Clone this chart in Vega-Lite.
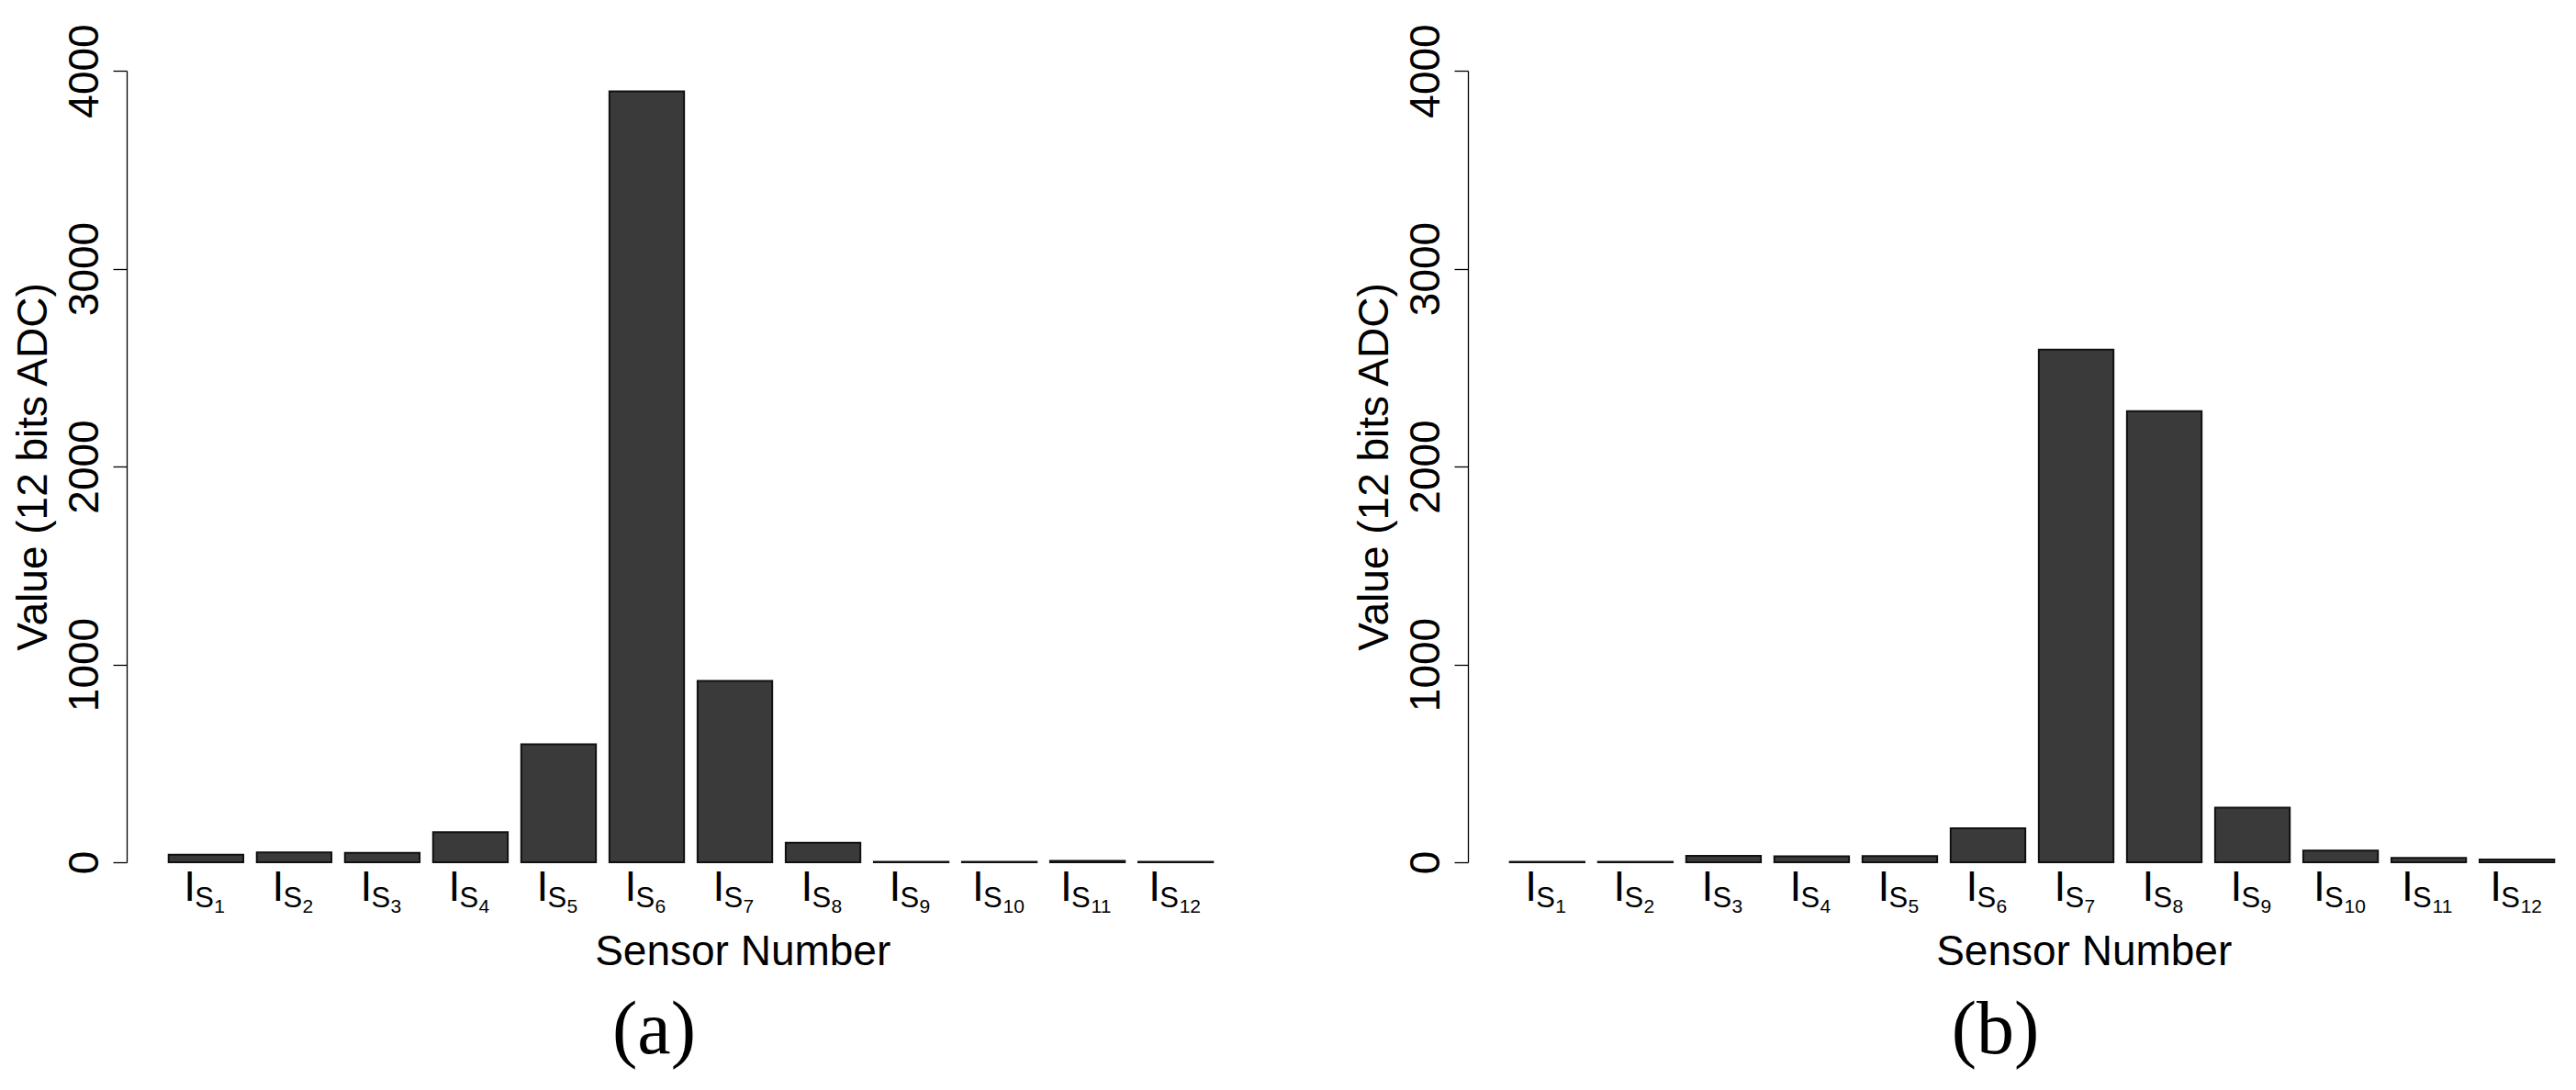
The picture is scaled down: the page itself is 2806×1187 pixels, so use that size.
{
  "$schema": "https://vega.github.io/schema/vega-lite/v6.json",
  "background": "white",
  "padding": {"left": 13, "top": 25, "right": 0, "bottom": 40},
  "spacing": 107,
  "datasets": {
    "sensors": [
      {"panel": "a", "sensor": 1, "value": 38},
      {"panel": "a", "sensor": 2, "value": 50},
      {"panel": "a", "sensor": 3, "value": 48},
      {"panel": "a", "sensor": 4, "value": 152},
      {"panel": "a", "sensor": 5, "value": 596},
      {"panel": "a", "sensor": 6, "value": 3896},
      {"panel": "a", "sensor": 7, "value": 916},
      {"panel": "a", "sensor": 8, "value": 99},
      {"panel": "a", "sensor": 9, "value": 2},
      {"panel": "a", "sensor": 10, "value": 2},
      {"panel": "a", "sensor": 11, "value": 7},
      {"panel": "a", "sensor": 12, "value": 2},
      {"panel": "b", "sensor": 1, "value": 2},
      {"panel": "b", "sensor": 2, "value": 2},
      {"panel": "b", "sensor": 3, "value": 32},
      {"panel": "b", "sensor": 4, "value": 30},
      {"panel": "b", "sensor": 5, "value": 31},
      {"panel": "b", "sensor": 6, "value": 172},
      {"panel": "b", "sensor": 7, "value": 2590},
      {"panel": "b", "sensor": 8, "value": 2280},
      {"panel": "b", "sensor": 9, "value": 276},
      {"panel": "b", "sensor": 10, "value": 59},
      {"panel": "b", "sensor": 11, "value": 22},
      {"panel": "b", "sensor": 12, "value": 14}
    ]
  },
  "hconcat": [
    {
      "width": 1229,
      "height": 862,
      "data": {"name": "sensors"},
      "transform": [{"filter": "datum.panel === 'a'"}],
      "title": {"text": "(a)", "orient": "bottom", "frame": "group", "anchor": "middle", "dx": -40, "offset": 88, "baseline": "alphabetic"},
      "encoding": {
        "x": {
          "field": "sensor", "type": "ordinal",
          "scale": {"paddingInner": 0.153, "paddingOuter": 0.476},
          "axis": {"title": "Sensor Number", "labels": false, "ticks": false, "domain": false, "titleX": 670.7, "titlePadding": 111, "titleBaseline": "alphabetic", "titleAlign": "center"}
        }
      },
      "layer": [
        {
          "mark": {"type": "bar", "fill": "#3a3a3a", "stroke": "#111111", "strokeWidth": 2},
          "encoding": {
            "y": {"field": "value", "type": "quantitative", "title": "Value (12 bits ADC)", "scale": {"domain": [0, 4000], "nice": false}, "axis": {"values": [0, 1000, 2000, 3000, 4000], "format": "d"}}
          }
        },
        {"transform": [{"filter": "datum.sensor < 10"}], "mark": {"type": "text", "text": "I", "align": "left", "baseline": "alphabetic", "dx": -24, "dy": 42, "font": "Liberation Sans", "fontSize": 46, "color": "black"}, "encoding": {"y": {"datum": 0, "title": "Value (12 bits ADC)"}}},
        {"transform": [{"filter": "datum.sensor < 10"}], "mark": {"type": "text", "text": "S", "align": "left", "baseline": "alphabetic", "dx": -12, "dy": 49, "font": "Liberation Sans", "fontSize": 31, "color": "black"}, "encoding": {"y": {"datum": 0, "title": "Value (12 bits ADC)"}}},
        {"transform": [{"filter": "datum.sensor < 10"}], "mark": {"type": "text", "align": "left", "baseline": "alphabetic", "dx": 9, "dy": 55, "font": "Liberation Sans", "fontSize": 21, "color": "black"}, "encoding": {"y": {"datum": 0, "title": "Value (12 bits ADC)"}, "text": {"field": "sensor", "type": "nominal"}}},
        {"transform": [{"filter": "datum.sensor >= 10"}], "mark": {"type": "text", "text": "I", "align": "left", "baseline": "alphabetic", "dx": -29.5, "dy": 42, "font": "Liberation Sans", "fontSize": 46, "color": "black"}, "encoding": {"y": {"datum": 0, "title": "Value (12 bits ADC)"}}},
        {"transform": [{"filter": "datum.sensor >= 10"}], "mark": {"type": "text", "text": "S", "align": "left", "baseline": "alphabetic", "dx": -17.5, "dy": 49, "font": "Liberation Sans", "fontSize": 31, "color": "black"}, "encoding": {"y": {"datum": 0, "title": "Value (12 bits ADC)"}}},
        {"transform": [{"filter": "datum.sensor >= 10"}], "mark": {"type": "text", "align": "left", "baseline": "alphabetic", "dx": 4, "dy": 55, "font": "Liberation Sans", "fontSize": 21, "color": "black"}, "encoding": {"y": {"datum": 0, "title": "Value (12 bits ADC)"}, "text": {"field": "sensor", "type": "nominal"}}}
      ]
    },
    {
      "width": 1229,
      "height": 862,
      "data": {"name": "sensors"},
      "transform": [{"filter": "datum.panel === 'b'"}],
      "title": {"text": "(b)", "orient": "bottom", "frame": "group", "anchor": "middle", "dx": -40, "offset": 88, "baseline": "alphabetic"},
      "encoding": {
        "x": {
          "field": "sensor", "type": "ordinal",
          "scale": {"paddingInner": 0.153, "paddingOuter": 0.476},
          "axis": {"title": "Sensor Number", "labels": false, "ticks": false, "domain": false, "titleX": 670.7, "titlePadding": 111, "titleBaseline": "alphabetic", "titleAlign": "center"}
        }
      },
      "layer": [
        {
          "mark": {"type": "bar", "fill": "#3a3a3a", "stroke": "#111111", "strokeWidth": 2},
          "encoding": {
            "y": {"field": "value", "type": "quantitative", "title": "Value (12 bits ADC)", "scale": {"domain": [0, 4000], "nice": false}, "axis": {"values": [0, 1000, 2000, 3000, 4000], "format": "d"}}
          }
        },
        {"transform": [{"filter": "datum.sensor < 10"}], "mark": {"type": "text", "text": "I", "align": "left", "baseline": "alphabetic", "dx": -24, "dy": 42, "font": "Liberation Sans", "fontSize": 46, "color": "black"}, "encoding": {"y": {"datum": 0, "title": "Value (12 bits ADC)"}}},
        {"transform": [{"filter": "datum.sensor < 10"}], "mark": {"type": "text", "text": "S", "align": "left", "baseline": "alphabetic", "dx": -12, "dy": 49, "font": "Liberation Sans", "fontSize": 31, "color": "black"}, "encoding": {"y": {"datum": 0, "title": "Value (12 bits ADC)"}}},
        {"transform": [{"filter": "datum.sensor < 10"}], "mark": {"type": "text", "align": "left", "baseline": "alphabetic", "dx": 9, "dy": 55, "font": "Liberation Sans", "fontSize": 21, "color": "black"}, "encoding": {"y": {"datum": 0, "title": "Value (12 bits ADC)"}, "text": {"field": "sensor", "type": "nominal"}}},
        {"transform": [{"filter": "datum.sensor >= 10"}], "mark": {"type": "text", "text": "I", "align": "left", "baseline": "alphabetic", "dx": -29.5, "dy": 42, "font": "Liberation Sans", "fontSize": 46, "color": "black"}, "encoding": {"y": {"datum": 0, "title": "Value (12 bits ADC)"}}},
        {"transform": [{"filter": "datum.sensor >= 10"}], "mark": {"type": "text", "text": "S", "align": "left", "baseline": "alphabetic", "dx": -17.5, "dy": 49, "font": "Liberation Sans", "fontSize": 31, "color": "black"}, "encoding": {"y": {"datum": 0, "title": "Value (12 bits ADC)"}}},
        {"transform": [{"filter": "datum.sensor >= 10"}], "mark": {"type": "text", "align": "left", "baseline": "alphabetic", "dx": 4, "dy": 55, "font": "Liberation Sans", "fontSize": 21, "color": "black"}, "encoding": {"y": {"datum": 0, "title": "Value (12 bits ADC)"}, "text": {"field": "sensor", "type": "nominal"}}}
      ]
    }
  ],
  "config": {
    "view": {"stroke": null},
    "axis": {
      "labelFont": "Liberation Sans", "titleFont": "Liberation Sans",
      "labelFontSize": 46, "titleFontSize": 46, "titleFontWeight": "normal",
      "labelColor": "black", "titleColor": "black",
      "domainColor": "black", "tickColor": "black", "grid": false
    },
    "axisY": {
      "labelAngle": 270, "labelAlign": "center", "labelBaseline": "alphabetic",
      "labelPadding": 17, "tickSize": 15, "tickWidth": 1.3, "domainWidth": 1.3,
      "labelFlush": false, "labelOverlap": false,
      "titlePadding": 19, "titleBaseline": "alphabetic"
    },
    "title": {"font": "Liberation Serif", "fontSize": 82, "fontWeight": "normal", "color": "black"}
  }
}
